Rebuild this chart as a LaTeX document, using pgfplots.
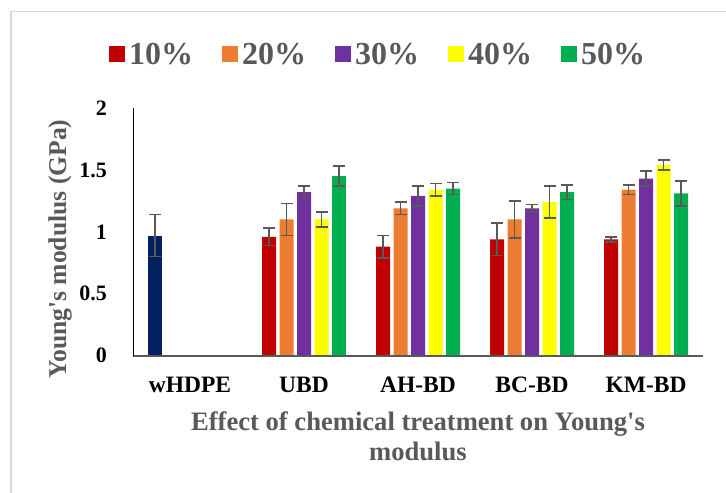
\documentclass[border=0pt]{standalone}
\usepackage{fontspec}
\setmainfont{Liberation Serif}[Ligatures=TeXOff]
\usepackage{pgfplots}
\usepackage{pgfplotstable}
\pgfplotsset{compat=1.18}
\definecolor{cA}{HTML}{C00000}
\definecolor{cB}{HTML}{ED7D31}
\definecolor{cC}{HTML}{7030A0}
\definecolor{cD}{HTML}{FFFF00}
\definecolor{cE}{HTML}{00B050}
\definecolor{cW}{HTML}{002060}
\definecolor{txtgray}{HTML}{595959}
\definecolor{framegray}{HTML}{D9D9D9}

\pgfplotstableread{
x y e
0 0.97 0.17
}\tW
\pgfplotstableread{
x y e
1 0.96 0.07
2 0.88 0.09
3 0.94 0.13
4 0.94 0.02
}\tA
\pgfplotstableread{
x y e
1 1.10 0.13
2 1.19 0.05
3 1.10 0.15
4 1.34 0.04
}\tB
\pgfplotstableread{
x y e
1 1.32 0.05
2 1.29 0.08
3 1.19 0.03
4 1.43 0.06
}\tC
\pgfplotstableread{
x y e
1 1.10 0.06
2 1.34 0.05
3 1.24 0.13
4 1.54 0.04
}\tD
\pgfplotstableread{
x y e
1 1.45 0.08
2 1.35 0.05
3 1.32 0.06
4 1.31 0.10
}\tE

\pgfplotsset{
  mybar/.style={ybar, bar shift=0, draw=none, fill=#1, bar width=0.1228, forget plot,
    error bars/.cd, y dir=both, y explicit,
    error bar style={draw=txtgray, line width=1.5bp},
    error mark options={draw=txtgray, rotate=90, mark size=6bp, line width=1.5bp}},
}

\begin{document}
\begin{tikzpicture}
\useasboundingbox (0,0) rectangle (726bp,493bp);
\fill[white] (0,0) rectangle (726bp,493bp);
\draw[framegray, line width=1.2bp] (11bp,-5bp) -- (11bp,481.3bp) -- (735bp,481.3bp);
\begin{axis}[
  at={(133bp,137.3bp)}, anchor=south west,
  scale only axis, width=570bp, height=247.7bp,
  xmin=-0.5, xmax=4.5, ymin=0, ymax=2,
  axis on top,
  axis lines=left,
  axis line style={-},
  x axis line style={draw=txtgray, line width=1.6bp},
  y axis line style={draw=black, line width=0.8bp},
  xtick={0,1,2,3,4},
  xticklabels={wHDPE,UBD,AH-BD,BC-BD,KM-BD},
  ytick={0,0.5,1,1.5,2},
  major tick length=0pt,
  tick style={draw=none},
  /pgf/number format/assume math mode=true,
  xticklabel style={font=\fontsize{23.5bp}{28bp}\selectfont\bfseries, anchor=base, inner sep=0pt, yshift=-36.6bp},
  yticklabel style={font=\fontsize{22bp}{26bp}\selectfont\bfseries, anchor=east, inner sep=0pt, xshift=-26bp},
  xlabel={Effect of chemical treatment on Young's\\modulus},
  xlabel style={at={(axis description cs:0.5,0)}, anchor=north, yshift=-56bp, inner sep=0pt, align=center,
    font=\fontsize{26.6bp}{30bp}\selectfont\bfseries, text=txtgray},
  ylabel={Young's modulus (GPa)},
  ylabel style={at={(axis description cs:-0.1175,0.4308)}, anchor=base, inner sep=0pt,
    font=\fontsize{25.6bp}{30bp}\selectfont\bfseries, text=txtgray},
  legend columns=5,
  legend image code/.code={\fill[#1] (0bp,-8bp) rectangle (16bp,8bp);},
  legend style={draw=none, fill=none, at={(-0.0421,1.216)}, anchor=west, inner sep=0pt, outer sep=0pt,
    font=\fontsize{32bp}{36bp}\selectfont\bfseries, text=txtgray, nodes={inner sep=4bp},
    /tikz/every even column/.append style={column sep=25bp}},
]
\addlegendimage{draw=none, fill=cA}
\addlegendentry{10\%}
\addlegendimage{draw=none, fill=cB}
\addlegendentry{20\%}
\addlegendimage{draw=none, fill=cC}
\addlegendentry{30\%}
\addlegendimage{draw=none, fill=cD}
\addlegendentry{40\%}
\addlegendimage{draw=none, fill=cE}
\addlegendentry{50\%}

\addplot[mybar=cW] table[x expr=\thisrow{x}-0.307, y=y, y error=e] {\tW};
\addplot[mybar=cA] table[x expr=\thisrow{x}-0.307, y=y, y error=e] {\tA};
\addplot[mybar=cB] table[x expr=\thisrow{x}-0.1535, y=y, y error=e] {\tB};
\addplot[mybar=cC] table[x expr=\thisrow{x}, y=y, y error=e] {\tC};
\addplot[mybar=cD] table[x expr=\thisrow{x}+0.1535, y=y, y error=e] {\tD};
\addplot[mybar=cE] table[x expr=\thisrow{x}+0.307, y=y, y error=e] {\tE};
\end{axis}
\end{tikzpicture}
\end{document}
